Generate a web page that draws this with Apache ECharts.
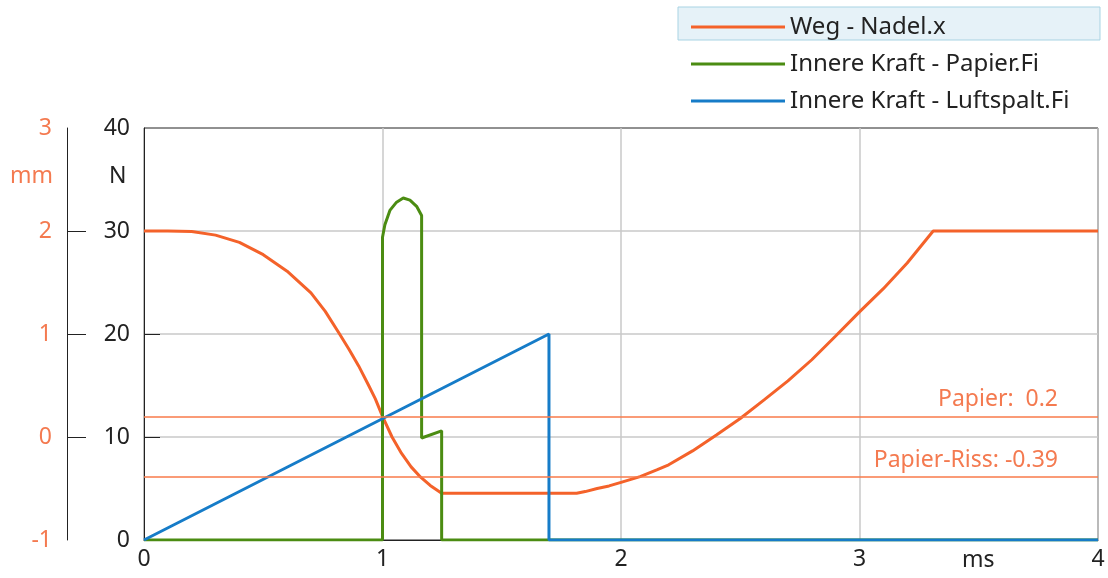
<!DOCTYPE html>
<html>
<head>
<meta charset="utf-8">
<script src="https://cdn.jsdelivr.net/npm/echarts@6/dist/echarts.min.js"></script>
<style>
  html, body { margin: 0; padding: 0; background: #fff; }
  #chart { width: 1108px; height: 578px; }
</style>
</head>
<body>
<div id="chart"></div>
<script>
// Weg - Nadel.x  (ms -> mm)
const wegT  = [0, 0.1, 0.2, 0.3, 0.4, 0.5, 0.6, 0.7, 0.76, 0.82, 0.86, 0.9, 0.94, 0.97, 1.0, 1.04, 1.08, 1.12, 1.16, 1.2, 1.248,
               1.814, 1.85, 1.9, 1.95, 2.0, 2.08, 2.15, 2.2, 2.3, 2.4, 2.5, 2.6, 2.7, 2.8, 2.9, 3.0, 3.1, 3.2, 3.309, 4.0]
const wegMm = [2.0, 2.0, 1.995, 1.96, 1.89, 1.77, 1.61, 1.4, 1.22, 1.0, 0.85, 0.69, 0.51, 0.37, 0.2, 0.0, -0.16, -0.29, -0.39, -0.47, -0.547,
               -0.547, -0.53, -0.5, -0.475, -0.44, -0.385, -0.32, -0.27, -0.135, 0.02, 0.18, 0.36, 0.545, 0.75, 0.98, 1.215, 1.44, 1.69, 2.0, 2.0]

// Innere Kraft - Papier.Fi  (ms -> N)
const papierT = [0, 1.0, 1.0, 1.01, 1.031, 1.059, 1.087, 1.115, 1.143, 1.164, 1.164, 1.248, 1.248, 4]
const papierN = [0, 0, 29.4, 30.6, 32.0, 32.8, 33.2, 33.0, 32.4, 31.5, 9.9, 10.6, 0, 0]

// Innere Kraft - Luftspalt.Fi  (ms -> N)
const luftT = [0, 1.698, 1.698, 4]
const luftN = [0, 20, 0, 0]

// Grenzlinien (mm)
const markNames  = ['Papier:  0.2', 'Papier-Riss: -0.39']
const markValues = [0.2, -0.39]

// Achsen-Teilstriche
const mmTicks = [0, 1, 2]
const nTicks  = [10, 20, 30]

const seriesNames = ['Weg - Nadel.x', 'Innere Kraft - Papier.Fi', 'Innere Kraft - Luftspalt.Fi']
const colors = ['#f4622a', '#4b8c12', '#167cc8']

const FONT = '"Noto Sans", "Open Sans", sans-serif'
const ORANGE_TXT = '#f47a50'

const zip = (xs, ys) => xs.map((x, i) => [x, ys[i]])

const chart = echarts.init(document.getElementById('chart'))

const option = {
  animation: false,
  color: colors,
  textStyle: { fontFamily: FONT },
  grid: {
    left: 144,
    right: 10,
    top: 128,
    bottom: 38,
    show: true,
    borderColor: '#222',
    borderWidth: 1
  },
  legend: {
    orient: 'vertical',
    left: 686,
    top: 10,
    icon: 'rect',
    itemWidth: 94,
    itemHeight: 3,
    itemGap: 13,
    selectedMode: false,
    textStyle: { fontSize: 24, color: '#222', lineHeight: 24, fontFamily: FONT },
    data: seriesNames
  },
  graphic: [
    {
      type: 'rect',
      z: 0,
      shape: { x: 678, y: 7, width: 422, height: 33 },
      style: { fill: '#e6f2f8', stroke: '#a8d3e3', lineWidth: 1 }
    },
    {
      type: 'text', left: 10, top: 165,
      style: { text: 'mm', fill: ORANGE_TXT, font: '23px ' + FONT }
    },
    {
      type: 'text', left: 109, top: 165,
      style: { text: 'N', fill: '#222', font: '23px ' + FONT }
    },
    {
      type: 'text', left: 962, top: 549,
      style: { text: 'ms', fill: '#222', font: '23px ' + FONT }
    }
  ],
  xAxis: {
    type: 'value',
    min: 0,
    max: 4,
    interval: 1,
    axisLine: { show: true, lineStyle: { color: '#222' } },
    axisTick: { show: false },
    axisLabel: { fontSize: 23, color: '#222', margin: 8, fontFamily: FONT },
    splitLine: { show: true, lineStyle: { color: '#c8c8c8', width: 1.5 } }
  },
  yAxis: [
    {
      type: 'value',
      position: 'left',
      min: 0,
      max: 40,
      interval: 10,
      axisLine: { show: true, lineStyle: { color: '#222' } },
      axisTick: { show: true, inside: true, length: 16, customValues: nTicks, lineStyle: { color: '#222' } },
      axisLabel: { fontSize: 23, color: '#222', margin: 14, fontFamily: FONT },
      splitLine: { show: true, lineStyle: { color: '#c8c8c8', width: 1.5 } }
    },
    {
      type: 'value',
      position: 'left',
      offset: 77,
      min: -1,
      max: 3,
      interval: 1,
      axisLine: { show: true, lineStyle: { color: '#222' } },
      axisTick: { show: true, inside: true, length: 19, customValues: mmTicks, lineStyle: { color: '#222' } },
      axisLabel: { fontSize: 23, color: ORANGE_TXT, margin: 15, fontFamily: FONT },
      splitLine: { show: false }
    }
  ],
  series: [
    {
      name: seriesNames[0],
      type: 'line',
      yAxisIndex: 1,
      symbol: 'none',
      lineStyle: { width: 3 },
      data: zip(wegT, wegMm),
      markLine: {
        silent: true,
        symbol: 'none',
        lineStyle: { color: '#f87a4a', width: 1.5, type: 'solid' },
        label: {
          position: 'insideEndTop',
          color: ORANGE_TXT,
          fontSize: 23,
          fontFamily: FONT,
          distance: [40, 5],
          formatter: p => p.name
        },
        data: markValues.map((v, i) => ({ name: markNames[i], yAxis: v }))
      }
    },
    {
      name: seriesNames[1],
      type: 'line',
      yAxisIndex: 0,
      symbol: 'none',
      lineStyle: { width: 3 },
      data: zip(papierT, papierN)
    },
    {
      name: seriesNames[2],
      type: 'line',
      yAxisIndex: 0,
      symbol: 'none',
      lineStyle: { width: 3 },
      data: zip(luftT, luftN)
    }
  ]
}

chart.setOption(option)
</script>
</body>
</html>
